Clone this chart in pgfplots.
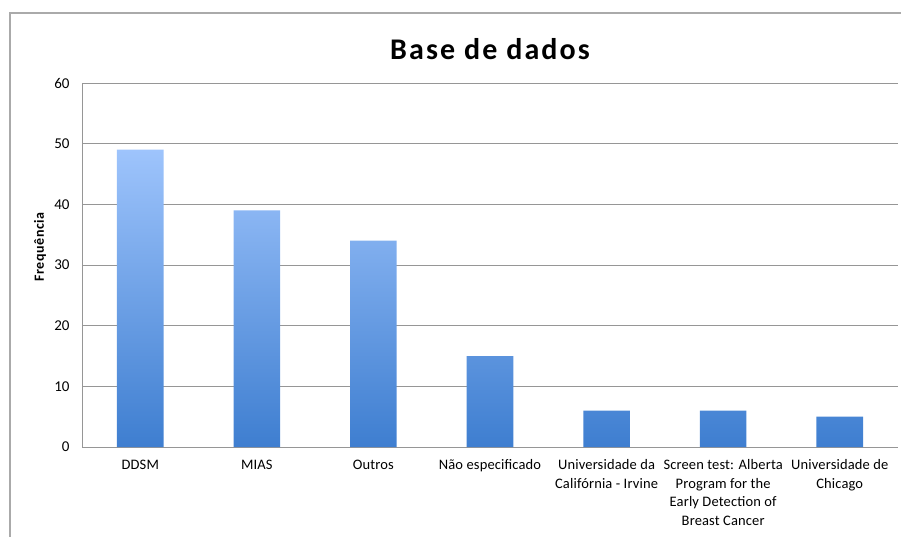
\documentclass[border=0pt]{standalone}
\usepackage{pgfplots}
\pgfplotsset{compat=1.18}
\usepackage{fontspec}
\setmainfont{Carlito}
\definecolor{bartop}{RGB}{158,196,252}
\definecolor{barbot}{RGB}{62,126,208}
\definecolor{gridc}{RGB}{150,150,150}
\definecolor{framec}{RGB}{170,170,170}
\begin{document}
\begin{tikzpicture}[x=1pt,y=1pt]
\path[use as bounding box] (0,0) rectangle (901,536);
\draw[framec, line width=1.3pt] (10,-5) -- (10,523) -- (910,523);
\node[font=\bfseries\fontsize{30}{34}\selectfont\addfontfeature{LetterSpace=7}, anchor=base] at (490,476) {Base de dados};
\node[font=\bfseries\fontsize{14}{16}\selectfont\addfontfeature{LetterSpace=4}, rotate=90, anchor=center] at (40,289) {Frequência};
\begin{axis}[
  at={(82pt,89pt)}, anchor=south west,
  scale only axis, width=816pt, height=364pt,
  xmin=-0.5, xmax=6.5, ymin=0, ymax=60,
  ytick={0,10,20,30,40,50,60},
  xtick=data,
  xticklabels={DDSM, MIAS, Outros, Não especificado, {Universidade da\\Califórnia - Irvine}, {Screen test: Alberta\\Program for the\\Early Detection of\\Breast Cancer}, {Universidade de\\Chicago}},
  xticklabel style={align=center, font=\fontsize{14.5}{18.5}\selectfont\addfontfeature{LetterSpace=1}, anchor=north, yshift=-5pt},
  yticklabel style={font=\fontsize{15}{17}\selectfont, xshift=-9pt},
  /pgf/number format/assume math mode=true,
  axis lines*=left,
  axis line style={gridc, line width=1pt},
  ymajorgrids, grid style={gridc, line width=1pt},
  tick style={draw=none},
  ybar, bar width=0.4,
]
\addplot[draw=none, top color=bartop, bottom color=barbot] coordinates {(0,49) (1,39) (2,34) (3,15) (4,6) (5,6) (6,5)};
\end{axis}
\end{tikzpicture}
\end{document}
